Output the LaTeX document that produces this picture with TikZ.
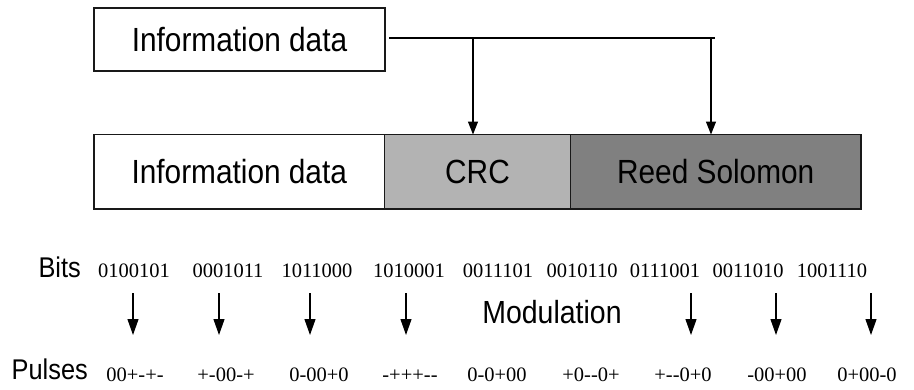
\documentclass[tikz,border=0pt]{standalone}
\usepackage{fontspec}
\setmainfont{Liberation Serif}
\newfontfamily\labfont[FakeStretch=0.89]{Liberation Sans}
\usetikzlibrary{arrows.meta}
\definecolor{crcgray}{RGB}{179,179,179}
\definecolor{rsgray}{RGB}{128,128,128}
% a hyphen pair kept as two hyphens (no en-dash ligature)
\newcommand\hh{-\kern0pt-}
\tikzset{
  field/.style={draw=black!90, line width=1.3pt, inner sep=0pt, outer sep=0pt,
    minimum height=74.5pt, font=\labfont\fontsize{33.5}{36}\selectfont},
  topfield/.style={field, minimum height=63pt, line width=1.1pt},
  wire/.style={line width=1.2pt},
  feed/.style={wire, -{Triangle[length=13pt,width=10pt]}},
  modarrow/.style={wire, -{Triangle[length=16pt,width=11pt]}},
  bitval/.style={anchor=base, inner sep=0pt, font=\fontsize{20.5}{22}\selectfont},
  rowlab/.style={anchor=base east, inner sep=0pt, font=\labfont\fontsize{28.5}{30}\selectfont}
}
\begin{document}
\begin{tikzpicture}[x=1pt, y=-1pt]
\useasboundingbox (0,0) rectangle (914,389);

% source block
\node[topfield, minimum width=291pt] (src) at (239.5,39.5) {Information data};

% coded frame: data, CRC and Reed Solomon parity
\node[field, minimum width=290.5pt] (data) at (239.25,171.75) {Information data};
\node[field, fill=crcgray, minimum width=186pt, anchor=west] (crc) at (data.east) {CRC};
\node[field, fill=rsgray, minimum width=290.5pt, anchor=west] (rs) at (crc.east) {Reed Solomon};

% feed from the source block to CRC and RS encoders
\coordinate (busL) at (389,38);
\coordinate (busR) at (715,38);
\coordinate (tapC) at (473,38);
\coordinate (tapR) at (711,38);
\draw[wire] (busL) -- (busR);
\draw[feed] (tapC) -- (tapC |- crc.north);
\draw[feed] (tapR) -- (tapR |- rs.north);

% modulation: 7-bit words to ternary pulse words
\node[rowlab] (bitslab) at (81,277.5) {Bits};
\node[rowlab] (pulseslab) at (88,379) {Pulses};

\foreach \i/\x/\w in {1/134/0100101, 2/228/0001011, 3/317/1011000, 4/409/1010001,
                     5/498/0011101, 6/582/0010110, 7/665/0111001, 8/748/0011010,
                     9/832/1001110}
  \node[bitval] (b\i) at (\x,277) {\w};

\foreach \i/\x/\w in {1/135/00+-+-, 2/226/+-00-+, 3/319/0-00+0, 4/410/-+++\hh,
                     5/497/0-0+00, 6/591/+0\hh0+, 7/683/+\hh0+0, 8/777/-00+00,
                     9/867/0+00-0}
  \node[bitval] (p\i) at (\x,381.5) {\w};

\node[anchor=base, inner sep=0pt, font=\labfont\fontsize{32}{34}\selectfont]
  (mod) at (552,323) {Modulation};

\foreach \i/\x in {1/133, 2/219, 3/310, 4/406, 7/691, 8/776, 9/871} {
  \coordinate (mt\i) at (\x,293);
  \coordinate (mb\i) at (\x,335);
  \draw[modarrow] (mt\i) -- (mb\i);
}
\end{tikzpicture}
\end{document}
